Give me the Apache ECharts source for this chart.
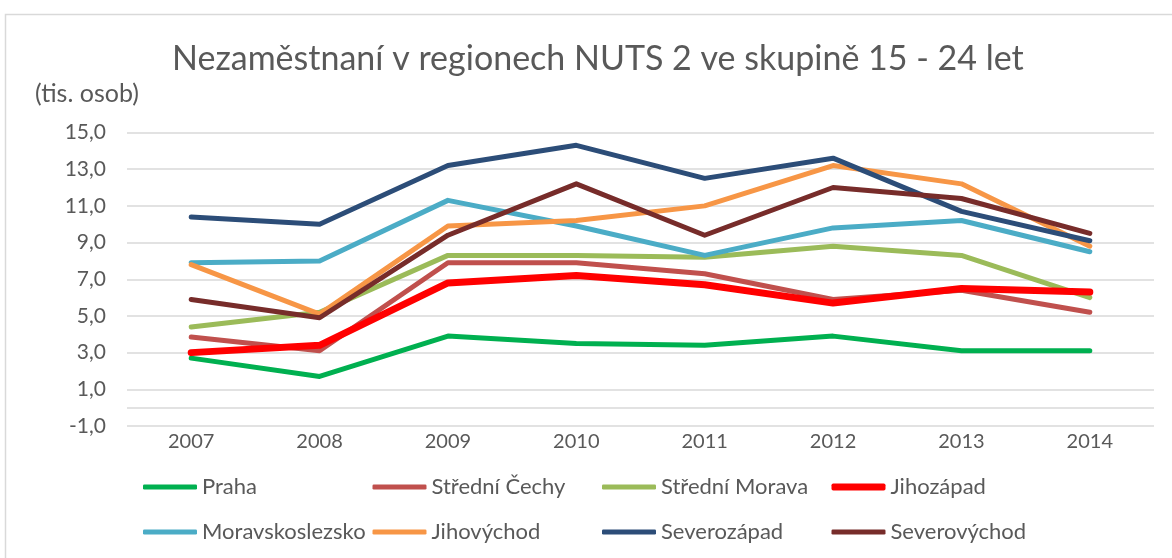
<!DOCTYPE html>
<html>
<head>
<meta charset="utf-8">
<script src="https://cdn.jsdelivr.net/npm/echarts@6/dist/echarts.min.js"></script>
<style>
html,body{margin:0;padding:0;background:#fff;}
#c{width:1172px;height:558px;}
</style>
</head>
<body>
<div id="c"></div>
<script>
const years = ['2007','2008','2009','2010','2011','2012','2013','2014'];
const praha          = [2.7, 1.7, 3.9, 3.5, 3.4, 3.9, 3.1, 3.1];
const stredniCechy   = [3.85, 3.1, 7.9, 7.9, 7.3, 5.9, 6.4, 5.2];
const stredniMorava  = [4.4, 5.2, 8.3, 8.3, 8.2, 8.8, 8.3, 6.0];
const jihozapad      = [3.0, 3.4, 6.8, 7.2, 6.7, 5.7, 6.5, 6.3];
const moravskoslezsko= [7.9, 8.0, 11.3, 9.9, 8.3, 9.8, 10.2, 8.5];
const jihovychod     = [7.8, 5.1, 9.9, 10.2, 11.0, 13.2, 12.2, 8.8];
const severozapad    = [10.4, 10.0, 13.2, 14.3, 12.5, 13.6, 10.7, 9.1];
const severovychod   = [5.9, 4.9, 9.4, 12.2, 9.4, 12.0, 11.4, 9.5];

const names = ['Praha','Střední Čechy','Střední Morava','Jihozápad','Moravskoslezsko','Jihovýchod','Severozápad','Severovýchod'];
const dataSets = [praha, stredniCechy, stredniMorava, jihozapad, moravskoslezsko, jihovychod, severozapad, severovychod];
const colors = ['#00B050','#C0504D','#9BBB59','#FF0000','#4BACC6','#F79646','#2C4D78','#772C2A'];
const widths = [5,5,5,7,5,5,5,5];

const FONT = 'Lato';
const TXT = '#595959';

const series = names.map((n,i)=>({
  name:n, type:'line', data:dataSets[i], symbol:'none', smooth:false,
  lineStyle:{color:colors[i], width:widths[i], cap:'round', join:'round'},
  itemStyle:{color:colors[i]},
  z: 2 + i,
  silent:true
}));
series[0].markLine = {
  silent:true, symbol:'none', label:{show:false},
  lineStyle:{color:'#D9D9D9', width:1.5, type:'solid'},
  data:[{yAxis:0}], z:1
};

const legends = names.map((n,i)=>({
  orient:'horizontal',
  left: 143 + (i%4)*229.5,
  top: i<4 ? 476 : 521,
  padding:0,
  itemWidth:54, itemHeight:widths[i],
  icon:'roundRect',
  textStyle:{fontFamily:FONT, fontSize:22, color:TXT},
  selectedMode:false,
  data:[{name:n, icon:'roundRect', itemStyle:{color:colors[i]}}]
}));

const chart = echarts.init(document.getElementById('c'), null, {renderer:'canvas'});
chart.setOption({
  backgroundColor:'#fff',
  animation:false,
  color:colors,
  graphic:[
    {type:'rect', shape:{x:5.5,y:14.5,width:1200,height:600}, style:{fill:'none', stroke:'#D9D9D9', lineWidth:1.5}, z:-10},
    {type:'text', left:172, top:42, style:{text:'Nezaměstnaní v regionech NUTS 2 ve skupině 15 - 24 let', font:'34px Lato', fill:TXT}},
    {type:'text', left:35, top:81, style:{text:'(tis. osob)', font:'25px Lato', fill:TXT}}
  ],
  grid:{left:127, right:18, top:132.5, bottom:132, containLabel:false},
  legend:legends,
  xAxis:{
    type:'category', data:years, boundaryGap:true,
    axisLine:{show:false}, axisTick:{show:false},
    axisLabel:{fontFamily:FONT, fontSize:20, color:TXT, margin:6},
    splitLine:{show:false}
  },
  yAxis:{
    type:'value', min:-1, max:15, interval:2,
    axisLine:{show:false}, axisTick:{show:false},
    axisLabel:{fontFamily:FONT, fontSize:21, color:TXT, margin:21,
      formatter:v=>v.toFixed(1).replace('.',',')},
    splitLine:{lineStyle:{color:'#D9D9D9', width:1.5}}
  },
  series:series
});
</script>
</body>
</html>
